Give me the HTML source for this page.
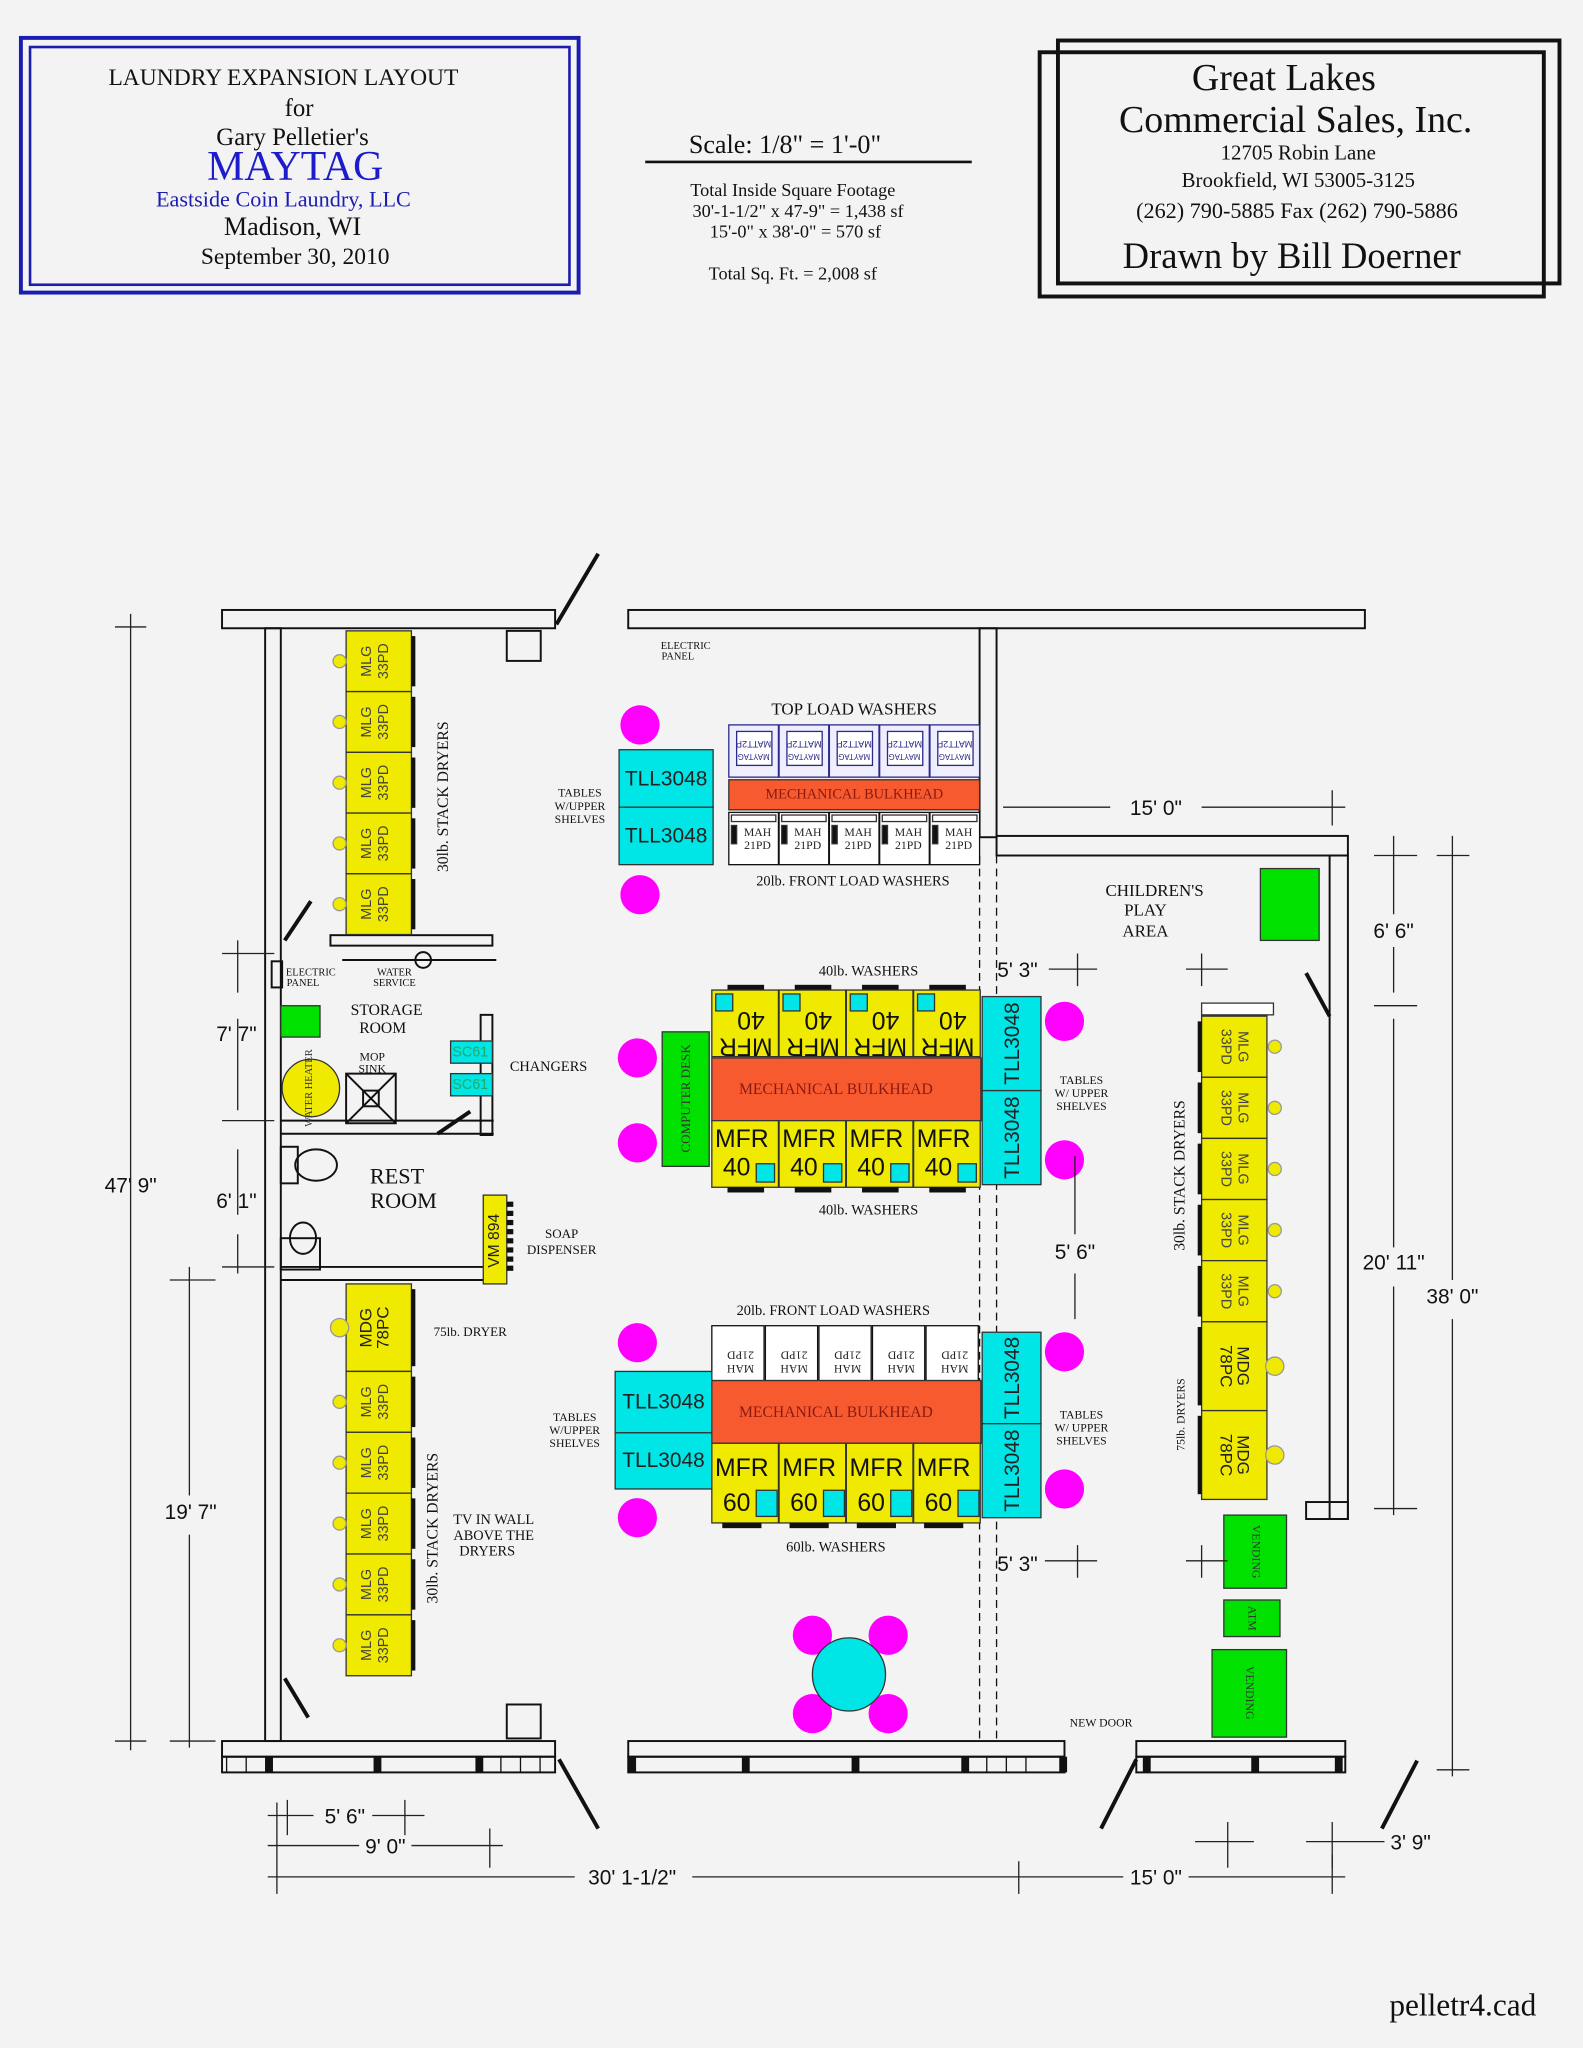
<!DOCTYPE html>
<html><head><meta charset="utf-8">
<style>
html,body{margin:0;padding:0;background:#f3f3f3;}
svg{display:block;}
</style></head>
<body>
<svg id="d" width="1583" height="2048" viewBox="0 0 1212 1568" xmlns="http://www.w3.org/2000/svg" font-family="Liberation Serif, serif">
<rect width="1212" height="1568" fill="#f3f3f3"/>
<!-- Title box left -->
<rect x="16" y="29" width="427" height="195" fill="none" stroke="#1c1cb0" stroke-width="3"/>
<rect x="23" y="36" width="413" height="182" fill="none" stroke="#1c1cb0" stroke-width="2"/>
<g text-anchor="middle" fill="#111">
<text x="217" y="65" font-size="18">LAUNDRY EXPANSION LAYOUT</text>
<text x="229" y="89" font-size="19">for</text>
<text x="224" y="111" font-size="19">Gary Pelletier's</text>
<text x="226" y="138" font-size="32" fill="#1c1ccc">MAYTAG</text>
<text x="217" y="158" font-size="17" fill="#1c1cb0">Eastside Coin Laundry, LLC</text>
<text x="224" y="180" font-size="20">Madison, WI</text>
<text x="226" y="202" font-size="18">September 30, 2010</text>
<text x="601" y="117" font-size="20">Scale:  1/8" = 1'-0"</text>
<text x="607" y="150" font-size="14">Total Inside Square Footage</text>
<text x="611" y="166" font-size="14">30'-1-1/2" x 47-9" = 1,438 sf</text>
<text x="609" y="182" font-size="14">15'-0" x 38'-0" =   570 sf</text>
<text x="607" y="214" font-size="14">Total Sq. Ft. = 2,008 sf</text>
<text x="983" y="69" font-size="29">Great Lakes</text>
<text x="992" y="101" font-size="29">Commercial Sales, Inc.</text>
<text x="994" y="122" font-size="16">12705 Robin Lane</text>
<text x="994" y="143" font-size="16">Brookfield, WI  53005-3125</text>
<text x="993" y="167" font-size="17">(262) 790-5885   Fax (262) 790-5886</text>
<text x="989" y="205" font-size="28">Drawn by Bill Doerner</text>
</g>
<line x1="494" y1="124" x2="744" y2="124" stroke="#111" stroke-width="2"/>
<rect x="796" y="40" width="386" height="187" fill="none" stroke="#111" stroke-width="3"/>
<rect x="810" y="31" width="384" height="186" fill="none" stroke="#111" stroke-width="3"/>

<g id="plan" stroke="#111" stroke-width="1.5" fill="none">
<rect x="170" y="467" width="255" height="14"/>
<rect x="481" y="467" width="564" height="14"/>
<rect x="203" y="481" width="12" height="852"/>
<rect x="750" y="481" width="13" height="160"/>
<rect x="763" y="640" width="269" height="15"/>
<rect x="1018" y="655" width="14" height="508"/>
<rect x="1000" y="1150" width="32" height="13"/>
<rect x="388" y="483" width="26" height="23"/>
<rect x="388" y="1305" width="26" height="26"/>
<rect x="170" y="1333" width="255" height="12"/>
<rect x="170" y="1345" width="255" height="12"/>
<rect x="481" y="1333" width="334" height="12"/>
<rect x="481" y="1345" width="334" height="12"/>
<rect x="870" y="1333" width="160" height="12"/>
<rect x="870" y="1345" width="160" height="12"/>
<line x1="750" y1="655" x2="750" y2="1333" stroke-dasharray="6,4" stroke-width="1"/>
<line x1="763" y1="655" x2="763" y2="1333" stroke-dasharray="6,4" stroke-width="1"/>
<line x1="215" y1="858" x2="378" y2="858"/>
<line x1="215" y1="868" x2="378" y2="868"/>
<line x1="215" y1="970" x2="372" y2="970"/>
<line x1="215" y1="980" x2="372" y2="980"/>
<rect x="368" y="777" width="9" height="92"/>
<rect x="253" y="716" width="124" height="8"/>
<line x1="262" y1="735" x2="380" y2="735"/>
<circle cx="324" cy="735" r="6"/>
<rect x="208" y="736" width="8" height="20"/>
<rect x="215" y="948" width="30" height="24"/>
<rect x="215" y="878" width="13" height="28"/>
<ellipse cx="242" cy="892" rx="16" ry="12"/>
<ellipse cx="232" cy="948" rx="10" ry="12"/>
<rect x="265" y="822" width="38" height="38"/>
<rect x="278" y="835" width="12" height="12"/>
<path d="M265 822L303 860M303 822L265 860"/>
</g>
<g stroke="#111" stroke-width="3">
<line x1="426" y1="478" x2="458" y2="424"/>
<line x1="218" y1="720" x2="238" y2="690"/>
<line x1="335" y1="868" x2="360" y2="851"/>
<line x1="218" y1="1285" x2="236" y2="1315"/>
<line x1="428" y1="1347" x2="458" y2="1400"/>
<line x1="870" y1="1347" x2="843" y2="1400"/>
<line x1="1085" y1="1348" x2="1058" y2="1400"/>
<line x1="1000" y1="745" x2="1018" y2="778"/>
</g>
<g id="gen"></g>
<g text-anchor="middle" fill="#111" font-size="12">
<text x="525" y="497" font-size="8">ELECTRIC</text><text x="519" y="505" font-size="8">PANEL</text>
<text x="654" y="547" font-size="13">TOP LOAD WASHERS</text>
<text x="653" y="678" font-size="11">20lb. FRONT LOAD WASHERS</text>
<text x="444" y="610" font-size="9">TABLES</text><text x="444" y="620" font-size="9">W/UPPER</text><text x="444" y="630" font-size="9">SHELVES</text>
<text x="665" y="747" font-size="11">40lb. WASHERS</text>
<text x="665" y="930" font-size="11">40lb. WASHERS</text>
<text x="420" y="820" font-size="11">CHANGERS</text>
<text x="828" y="830" font-size="9">TABLES</text><text x="828" y="840" font-size="9">W/ UPPER</text><text x="828" y="850" font-size="9">SHELVES</text>
<text x="638" y="1007" font-size="11">20lb. FRONT LOAD WASHERS</text>
<text x="440" y="1088" font-size="9">TABLES</text><text x="440" y="1098" font-size="9">W/UPPER</text><text x="440" y="1108" font-size="9">SHELVES</text>
<text x="828" y="1086" font-size="9">TABLES</text><text x="828" y="1096" font-size="9">W/ UPPER</text><text x="828" y="1106" font-size="9">SHELVES</text>
<text x="640" y="1188" font-size="11">60lb. WASHERS</text>
<text x="884" y="686" font-size="13">CHILDREN'S</text><text x="877" y="701" font-size="13">PLAY</text><text x="877" y="717" font-size="13">AREA</text>
<text x="843" y="1322" font-size="9">NEW DOOR</text>
<text x="238" y="747" font-size="8">ELECTRIC</text><text x="232" y="755" font-size="8">PANEL</text>
<text x="302" y="747" font-size="8">WATER</text><text x="302" y="755" font-size="8">SERVICE</text>
<text x="296" y="777" font-size="12">STORAGE</text><text x="293" y="791" font-size="12">ROOM</text>
<text x="285" y="812" font-size="9">MOP</text><text x="285" y="821" font-size="9">SINK</text>
<text x="304" y="906" font-size="17">REST</text><text x="309" y="925" font-size="17">ROOM</text>
<text x="430" y="948" font-size="10">SOAP</text><text x="430" y="960" font-size="10">DISPENSER</text>
<text x="360" y="1023" font-size="10">75lb. DRYER</text>
<text x="378" y="1167" font-size="11">TV IN WALL</text><text x="378" y="1179" font-size="11">ABOVE THE</text><text x="373" y="1191" font-size="11">DRYERS</text>
<text transform="translate(343,610) rotate(-90)" font-size="12">30lb. STACK DRYERS</text>
<text transform="translate(335,1170) rotate(-90)" font-size="12">30lb. STACK DRYERS</text>
<text transform="translate(907,900) rotate(-90)" font-size="12">30lb. STACK DRYERS</text>
<text transform="translate(907,1083) rotate(-90)" font-size="9">75lb. DRYERS</text>
</g>
<g font-family="Liberation Sans, sans-serif" fill="#111" font-size="16" text-anchor="middle">
<text x="100" y="913">47' 9"</text>
<text x="181" y="797">7' 7"</text>
<text x="181" y="925">6' 1"</text>
<text x="146" y="1163">19' 7"</text>
<text x="885" y="624">15' 0"</text>
<text x="1067" y="718">6' 6"</text>
<text x="779" y="748">5' 3"</text>
<text x="823" y="964">5' 6"</text>
<text x="1067" y="972">20' 11"</text>
<text x="1112" y="998">38' 0"</text>
<text x="779" y="1203">5' 3"</text>
<text x="264" y="1396">5' 6"</text>
<text x="295" y="1419">9' 0"</text>
<text x="484" y="1443">30' 1-1/2"</text>
<text x="885" y="1443">15' 0"</text>
<text x="1080" y="1416">3' 9"</text>
</g>
<text x="1120" y="1543" font-size="24" text-anchor="middle" fill="#111">pelletr4.cad</text>
<g stroke="#222" stroke-width="1" fill="none">
<path d="M100 470V1340M88 480H112M88 1333H112"/>
<path d="M182 720V760M182 780V850M170 730H210M170 858H210M182 880V930M182 945V975M170 970H210"/>
<path d="M145 970V1145M145 1175V1338M130 980H165M130 1333H165"/>
<path d="M768 618H850M920 618H1030M1020 605V632"/>
<path d="M1067 640V700M1067 725V760M1052 655H1085M1052 770H1085"/>
<path d="M1067 780V955M1067 985V1160M1052 1155H1085"/>
<path d="M1112 640V980M1112 1010V1360M1100 655H1125M1100 1355H1125"/>
<path d="M803 742H840M825 730V755M908 742H940M920 730V755"/>
<path d="M823 885V945M823 975V1010"/>
<path d="M800 1195H840M825 1183V1208M908 1195H940M920 1183V1208"/>
<path d="M205 1390H240M285 1390H325M220 1378V1405M310 1378V1405"/>
<path d="M205 1413H275M315 1413H385M375 1400V1430"/>
<path d="M205 1437H440M530 1437H860M910 1437H1030M212 1380V1450M780 1425V1450M1020 1420V1450"/>
<path d="M915 1410H960M940 1395V1430M1000 1410H1060M1020 1395V1430"/>
</g>
<script>
var g=document.getElementById('gen'),ns='http://www.w3.org/2000/svg';
function el(t,a,txt){var e=document.createElementNS(ns,t);for(var k in a)e.setAttribute(k,a[k]);if(txt!==undefined)e.textContent=txt;g.appendChild(e);return e;}
function R(x,y,w,h,f,s){return el('rect',{x:x,y:y,width:w,height:h,fill:f,stroke:s||'#333','stroke-width':1});}
function T(x,y,t,sz,rot,f,fam){var a={x:0,y:0,'font-size':sz,'text-anchor':'middle','dominant-baseline':'middle',fill:f||'#222','font-family':fam||'Liberation Sans, sans-serif',transform:'translate('+x+','+y+') rotate('+(rot||0)+')'};return el('text',a,t);}
var Y='#f0ea00',C='#00e5e5',P='#ff00ff',G='#00e100',O='#f85a30';
function dryL(y,h,a,b,big){R(265,y,50,h,Y);el('rect',{x:315,y:y+4,width:3,height:h-8,fill:'#111'});el('circle',{cx:260,cy:y+h/2,r:big?7:5,fill:Y,stroke:'#999'});var s=big?13:11,c=big?'#222':'#444';T(281,y+h/2,a,s,-90,c);T(294,y+h/2,b,s,-90,c);}
for(var i=0;i<5;i++)dryL(483+i*46.5,46.5,'MLG','33PD');
dryL(983,67,'MDG','78PC',1);
for(i=0;i<5;i++)dryL(1050+i*46.6,46.6,'MLG','33PD');
function dryR(y,h,a,b,big){R(920,y,50,h,Y);el('rect',{x:917,y:y+4,width:3,height:h-8,fill:'#111'});el('circle',{cx:976,cy:y+h/2,r:big?7:5,fill:Y,stroke:'#999'});var s=big?13:11,c=big?'#222':'#444';T(951,y+h/2,a,s,90,c);T(938,y+h/2,b,s,90,c);}
R(920,768,55,9,'#fff');
for(i=0;i<5;i++)dryR(778+i*46.8,46.8,'MLG','33PD');
dryR(1012,68,'MDG','78PC',1);dryR(1080,68,'MDG','78PC',1);
R(937,1160,48,56,G);T(961,1188,'VENDING',9,90,'#333','Liberation Serif, serif');
R(937,1225,43,28,G);T(958,1239,'ATM',9,90,'#333','Liberation Serif, serif');
R(928,1263,57,67,G);T(956,1296,'VENDING',9,90,'#333','Liberation Serif, serif');
R(965,665,45,55,G);
for(i=0;i<5;i++){var x=558+i*38.5;R(x,555,38,40,'#eef','#2a2a8a');R(x+6,560,27,26,'#fff','#2a2a8a');T(x+19,569,'MATT2P',7,180,'#2a2a8a');T(x+19,579,'MAYTAG',6,180,'#2a2a8a');}
R(558,597,192,23,O);T(654,609,'MECHANICAL BULKHEAD',11,0,'#8a1a10','Liberation Serif, serif');
for(i=0;i<5;i++){var x=558+i*38.5;R(x,622,38,40,'#fff','#111');R(x+2,624,34,5,'#fff');R(x+2,632,4,14,'#111');T(x+22,638,'MAH',9,0,'#222','Liberation Serif, serif');T(x+22,648,'21PD',9,0,'#222','Liberation Serif, serif');}
R(474,574,72,44,C);T(510,597,'TLL3048',16);R(474,618,72,44,C);T(510,641,'TLL3048',16);
for(i=0;i<4;i++){var x=545+i*51.5;el('rect',{x:x+12,y:754,width:28,height:4,fill:'#111'});R(x,758,51,51,Y);R(x+3,761,13,13,C);T(x+30,780,'40',19,180,'#111');T(x+26,800,'MFR',19,180,'#111');}
R(545,810,206,48,O);T(640,835,'MECHANICAL BULKHEAD',12,0,'#8a1a10','Liberation Serif, serif');
for(i=0;i<4;i++){var x=545+i*51.5;R(x,858,51,51,Y);R(x+34,891,14,14,C);T(x+23,873,'MFR',19,0,'#111');T(x+19,895,'40',19,0,'#111');el('rect',{x:x+12,y:909,width:28,height:4,fill:'#111'});}
R(507,790,36,103,G);T(526,841,'COMPUTER DESK',10,-90,'#333','Liberation Serif, serif');
R(752,763,45,72,C);T(776,799,'TLL3048',16,-90);R(752,835,45,72,C);T(776,871,'TLL3048',16,-90);
R(345,797,32,17,C);T(360,806,'SC61',11,0,'#2a6');R(345,822,32,17,C);T(360,831,'SC61',11,0,'#2a6');
R(370,915,18,68,Y);T(379,950,'VM 894',12,-90,'#222');
for(i=0;i<8;i++)el('rect',{x:388,y:920+i*7,width:5,height:4,fill:'#111'});
el('rect',{x:215,y:770,width:30,height:24,fill:G,stroke:'#333'});
el('circle',{cx:238,cy:833,r:22,fill:Y,stroke:'#333'});T(237,833,'WATER HEATER',8,-90,'#333','Liberation Serif, serif');
for(i=0;i<5;i++){var x=545+i*41;R(x,1015,40,42,'#fff','#111');T(x+22,1037,'21PD',9,180,'#222','Liberation Serif, serif');T(x+22,1047,'MAH',9,180,'#222','Liberation Serif, serif');}
R(545,1057,206,48,O);T(640,1082,'MECHANICAL BULKHEAD',12,0,'#8a1a10','Liberation Serif, serif');
for(i=0;i<4;i++){var x=545+i*51.5;R(x,1105,51,61,Y);R(x+34,1141,16,20,C);T(x+23,1125,'MFR',19,0,'#111');T(x+19,1152,'60',19,0,'#111');el('rect',{x:x+8,y:1166,width:30,height:4,fill:'#111'});}
R(471,1050,74,47,C);T(508,1074,'TLL3048',16);R(471,1097,74,43,C);T(508,1119,'TLL3048',16);
R(752,1020,45,70,C);T(776,1055,'TLL3048',16,-90);R(752,1090,45,72,C);T(776,1126,'TLL3048',16,-90);
[[490,555],[490,685],[488,810],[488,875],[815,782],[815,888],[488,1028],[488,1162],[815,1035],[815,1140],[622,1252],[680,1252],[622,1312],[680,1312]].forEach(function(p){el('circle',{cx:p[0],cy:p[1],r:15,fill:P});});
el('circle',{cx:650,cy:1282,r:28,fill:C,stroke:'#333'});
[[173,1345],[188,1345],[203,1345],[368,1345],[383,1345],[398,1345],[413,1345],[740,1345],[755,1345],[770,1345],[785,1345]].forEach(function(p){el('rect',{x:p[0],y:p[1],width:1,height:12,fill:'#111'});});
[[203,1345],[286,1345],[364,1345],[481,1345],[568,1345],[652,1345],[736,1345],[875,1345],[958,1345],[1022,1345],[811,1345]].forEach(function(p){el('rect',{x:p[0],y:p[1],width:6,height:12,fill:'#111'});});
</script>
</svg>
</body></html>
